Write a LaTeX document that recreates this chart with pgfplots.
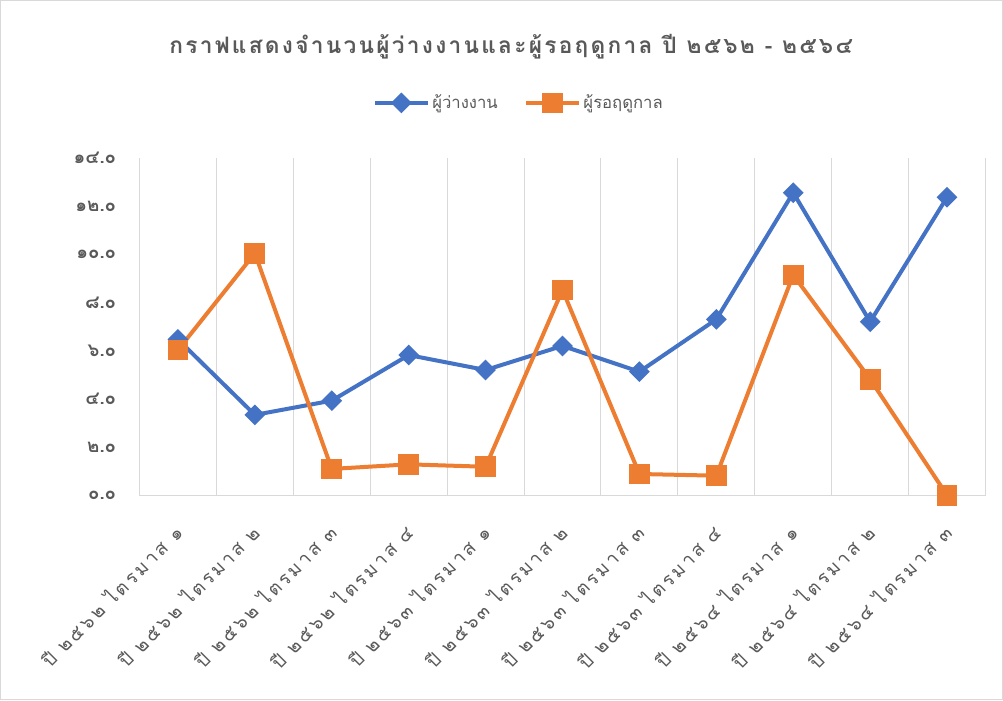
\documentclass[border=0pt]{standalone}
\usepackage{fontspec}
\usepackage{pgfplots}
\pgfplotsset{compat=1.18}
\newfontfamily\thaifont[Script=Thai]{Loma}
\newfontfamily\thaixlab[Script=Thai,LetterSpace=15]{Loma}
\newfontfamily\thaititle[Script=Thai,LetterSpace=10]{Loma}
\definecolor{cblue}{HTML}{4472C4}
\definecolor{corange}{HTML}{ED7D31}
\definecolor{txtgray}{HTML}{595959}
\definecolor{gridgray}{HTML}{D9D9D9}
\begin{document}
\begin{tikzpicture}
\begin{scope}[x=0.75pt,y=0.75pt]
\path[use as bounding box] (0,0) rectangle (1003,700);
\draw[gridgray, line width=0.75pt] (0.5,0.5) rectangle (1002.5,699.5);
\node[font=\thaititle\bfseries\fontsize{17}{20}\selectfont, text=txtgray] at (511,653) {กราฟแสดงจำนวนผู้ว่างงานและผู้รอฤดูกาล ปี ๒๕๖๒ - ๒๕๖๔};
\end{scope}
\begin{axis}[
  at={(104.625pt,153.225pt)}, anchor=south west,
  scale only axis, width=634.5pt, height=253.3pt,
  xmin=-0.5, xmax=10.5, ymin=0, ymax=14,
  clip=false,
  axis x line=bottom, axis y line=left,
  y axis line style={draw=none},
  x axis line style={gridgray, line width=1pt, -},
  major tick length=0, minor tick length=0,
  xtick={0,...,10},
  xticklabels={ปี ๒๕๖๒ ไตรมาส ๑, ปี ๒๕๖๒ ไตรมาส ๒, ปี ๒๕๖๒ ไตรมาส ๓, ปี ๒๕๖๒ ไตรมาส ๔, ปี ๒๕๖๓ ไตรมาส ๑, ปี ๒๕๖๓ ไตรมาส ๒, ปี ๒๕๖๓ ไตรมาส ๓, ปี ๒๕๖๓ ไตรมาส ๔, ปี ๒๕๖๔ ไตรมาส ๑, ปี ๒๕๖๔ ไตรมาส ๒, ปี ๒๕๖๔ ไตรมาส ๓},
  minor xtick={-0.5,0.5,...,10.5},
  xminorgrids=true,
  minor grid style={gridgray, line width=0.75pt},
  ytick={0,2,...,14},
  yticklabels={๐.๐, ๒.๐, ๔.๐, ๖.๐, ๘.๐, ๑๐.๐, ๑๒.๐, ๑๔.๐},
  yticklabel style={font=\thaifont\bfseries\fontsize{14}{16}\selectfont, text=txtgray},
  yticklabel shift=14pt,
  xticklabel style={rotate=45, anchor=east, xshift=4pt, font=\thaixlab\fontsize{14}{16}\selectfont, text=txtgray},
  xticklabel shift=25pt,
  legend columns=2,
  legend style={at={(0.449,1.163)}, anchor=center, draw=none, fill=none,
    font=\thaifont\fontsize{12.5}{14}\selectfont, text=txtgray,
    /tikz/every even column/.append style={column sep=18pt}},
  legend image code/.code={\draw[mark repeat=2,mark phase=2] plot coordinates {(0cm,0cm) (0.69cm,0cm) (1.38cm,0cm)};},
]
\addplot[cblue, line width=3pt, mark=square*, mark size=4pt, mark options={rotate=45, solid}] coordinates {
(0,6.48) (1,3.35) (2,3.94) (3,5.83) (4,5.21) (5,6.21) (6,5.14) (7,7.31) (8,12.56) (9,7.21) (10,12.37)};
\addlegendentry{ผู้ว่างงาน}
\addplot[corange, line width=3pt, mark=square*, mark size=6.3pt, mark options={solid}] coordinates {
(0,6.04) (1,10.05) (2,1.11) (3,1.30) (4,1.20) (5,8.53) (6,0.90) (7,0.83) (8,9.15) (9,4.83) (10,0.02)};
\addlegendentry{ผู้รอฤดูกาล}
\end{axis}
\end{tikzpicture}
\end{document}
